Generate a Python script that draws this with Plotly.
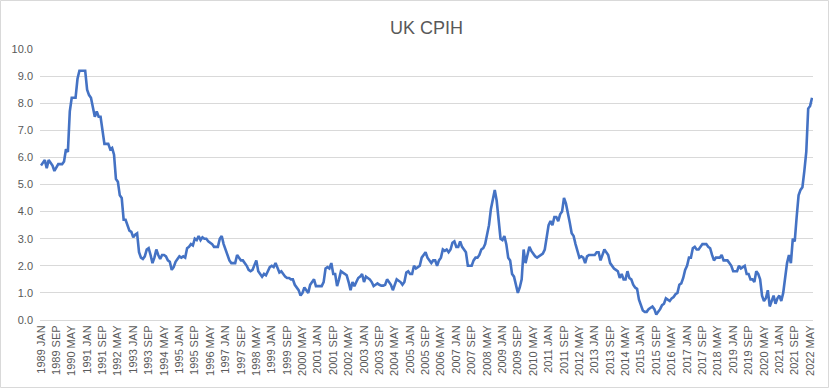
import plotly.graph_objects as go

# UK CPIH annual rate (%), monthly, 1989 JAN .. 2022 JUN
cpih_1989_1995 = [
    5.7, 5.8, 5.9, 5.6, 5.9, 5.8, 5.7, 5.5, 5.65, 5.75, 5.75, 5.75,      # 1989
    5.85, 6.3, 6.2, 7.7, 8.2, 8.2, 8.2, 8.9, 9.2, 9.2, 9.2, 9.2,         # 1990
    8.5, 8.3, 8.2, 7.9, 7.5, 7.7, 7.5, 7.5, 6.9, 6.5, 6.5, 6.5,          # 1991
    6.3, 6.35, 6.1, 5.2, 5.1, 4.6, 4.5, 3.7, 3.7, 3.45, 3.3, 3.25,       # 1992
    3.05, 3.15, 3.2, 2.5, 2.3, 2.25, 2.35, 2.6, 2.65, 2.4, 2.1, 2.3,     # 1993
    2.6, 2.4, 2.25, 2.4, 2.4, 2.35, 2.2, 2.15, 1.85, 1.95, 2.15, 2.25,   # 1994
    2.35, 2.3, 2.35, 2.3, 2.65, 2.7, 2.8, 2.75, 3.0, 2.95, 3.1, 2.95,    # 1995
]
cpih_1996_2004 = [
    3.05, 3.0, 3.0, 2.9, 2.85, 2.8, 2.7, 2.7, 2.7, 3.0, 3.1, 2.8,        # 1996
    2.6, 2.4, 2.2, 2.1, 2.1, 2.1, 2.4, 2.3, 2.2, 2.2, 2.1, 2.0,          # 1997
    1.85, 1.8, 1.85, 2.0, 2.2, 1.8, 1.7, 1.6, 1.7, 1.65, 1.8, 1.95,      # 1998
    2.0, 1.95, 2.1, 1.9, 1.75, 1.8, 1.7, 1.6, 1.55, 1.55, 1.5, 1.5,      # 1999
    1.3, 1.2, 1.1, 0.9, 1.0, 1.2, 1.1, 1.0, 1.3, 1.4, 1.5, 1.25,         # 2000
    1.25, 1.25, 1.25, 1.4, 1.9, 1.95, 1.9, 2.1, 1.7, 1.7, 1.25, 1.5,     # 2001
    1.8, 1.75, 1.7, 1.65, 1.4, 1.1, 1.4, 1.25, 1.4, 1.55, 1.6, 1.7,      # 2002
    1.4, 1.6, 1.55, 1.5, 1.4, 1.25, 1.3, 1.35, 1.3, 1.27, 1.27, 1.3,     # 2003
    1.5, 1.4, 1.3, 1.1, 1.3, 1.5, 1.45, 1.4, 1.3, 1.4, 1.75, 1.8,        # 2004
]
cpih_2005_2013 = [
    1.7, 1.7, 2.0, 1.9, 1.95, 2.0, 2.3, 2.4, 2.5, 2.3, 2.2, 2.1,         # 2005
    2.2, 2.2, 2.0, 2.2, 2.3, 2.6, 2.55, 2.6, 2.5, 2.6, 2.85, 2.9,        # 2006
    2.7, 2.7, 2.9, 2.7, 2.6, 2.5, 2.0, 2.0, 2.0, 2.2, 2.3, 2.3,          # 2007
    2.4, 2.6, 2.65, 2.8, 3.1, 3.5, 4.1, 4.4, 4.8, 4.4, 3.8, 3.0,         # 2008
    2.95, 3.1, 2.8, 2.3, 2.2, 1.7, 1.6, 1.3, 1.0, 1.2, 1.5, 2.6,         # 2009
    2.1, 2.4, 2.7, 2.55, 2.45, 2.35, 2.3, 2.35, 2.4, 2.45, 2.6, 3.0,     # 2010
    3.5, 3.65, 3.5, 3.8, 3.8, 3.65, 3.9, 4.0, 4.5, 4.3, 4.0, 3.6,        # 2011
    3.2, 3.1, 2.8, 2.5, 2.3, 2.35, 2.3, 2.1, 2.35, 2.4, 2.4, 2.4,        # 2012
    2.4, 2.5, 2.5, 2.2, 2.4, 2.6, 2.5, 2.4, 2.1, 2.0, 1.9, 1.85,         # 2013
]
cpih_2014_2022 = [
    1.8, 1.55, 1.7, 1.5, 1.5, 1.8, 1.55, 1.5, 1.3, 1.2, 1.15, 0.75,      # 2014
    0.5, 0.35, 0.3, 0.3, 0.4, 0.45, 0.5, 0.4, 0.2, 0.3, 0.4, 0.55,       # 2015
    0.6, 0.8, 0.75, 0.7, 0.8, 0.85, 0.95, 1.0, 1.3, 1.35, 1.55, 1.85,    # 2016
    2.0, 2.3, 2.3, 2.65, 2.7, 2.6, 2.6, 2.7, 2.8, 2.8, 2.8, 2.7,         # 2017
    2.65, 2.4, 2.2, 2.3, 2.3, 2.3, 2.4, 2.2, 2.2, 2.2, 2.1, 2.0,         # 2018
    1.8, 1.8, 1.8, 2.0, 1.9, 1.95, 2.0, 1.7, 1.7, 1.5, 1.5, 1.4,         # 2019
    1.8, 1.7, 1.5, 0.9, 0.7, 0.8, 1.1, 0.5, 0.7, 0.9, 0.6, 0.8,          # 2020
    0.9, 0.7, 1.0, 1.6, 2.1, 2.4, 2.1, 3.0, 2.9, 3.8, 4.6, 4.8,          # 2021
    4.9, 5.5, 6.2, 7.8, 7.9, 8.2,                                        # 2022
]
cpih = cpih_1989_1995 + cpih_1996_2004 + cpih_2005_2013 + cpih_2014_2022

month_names = ["JAN", "FEB", "MAR", "APR", "MAY", "JUN",
               "JUL", "AUG", "SEP", "OCT", "NOV", "DEC"]
start_year = 1989
categories = [f"{start_year + k // 12} {month_names[k % 12]}" for k in range(len(cpih))]
label_step = 8
tick_positions = list(range(0, len(categories), label_step))
tick_labels = [categories[k] for k in tick_positions]
y_ticks = [0, 1, 2, 3, 4, 5, 6, 7, 8, 9, 10]

FONT = "Liberation Sans, Arial, sans-serif"
GREY = "#595959"

fig = go.Figure()
fig.add_trace(go.Scatter(
    x=list(range(len(cpih))), y=cpih, mode="lines",
    line=dict(color="#4472C4", width=2.6), hoverinfo="skip",
    customdata=categories,
))

fig.update_layout(
    width=829, height=388,
    margin=dict(l=40, r=16, t=49, b=68),
    paper_bgcolor="white", plot_bgcolor="white",
    showlegend=False,
    title=dict(text="UK CPIH", x=0.5, xref="paper", y=1 - 28 / 388, yanchor="middle",
               font=dict(family=FONT, size=18, color=GREY)),
    font=dict(family=FONT, color=GREY),
    xaxis=dict(
        range=[-0.5, len(cpih) - 0.5],
        tickmode="array", tickvals=tick_positions, ticktext=tick_labels,
        tickangle=-90, tickfont=dict(family=FONT, size=11, color=GREY),
        showgrid=False, zeroline=False, showline=True, linecolor="#d9d9d9",
        linewidth=1, ticks="",
    ),
    yaxis=dict(
        range=[0, 10], tickmode="array", tickvals=y_ticks, tickformat=".1f",
        tickfont=dict(family=FONT, size=11, color=GREY),
        showgrid=True, gridcolor="#d9d9d9", gridwidth=1, zeroline=False,
        showline=False, ticks="", ticklabelstandoff=6,
    ),
    shapes=[dict(type="rect", xref="paper", yref="paper",
                 x0=(0.5 - 40) / 773, x1=(828.5 - 40) / 773,
                 y0=(320 - 387.5) / 271, y1=(320 - 0.5) / 271,
                 line=dict(color="#d9d9d9", width=1), fillcolor="rgba(0,0,0,0)",
                 layer="below")],
)

fig.write_html(
    "out.html",
    config={"displayModeBar": False},
    post_script="document.body.style.margin='0';document.body.style.overflow='hidden';",
)
